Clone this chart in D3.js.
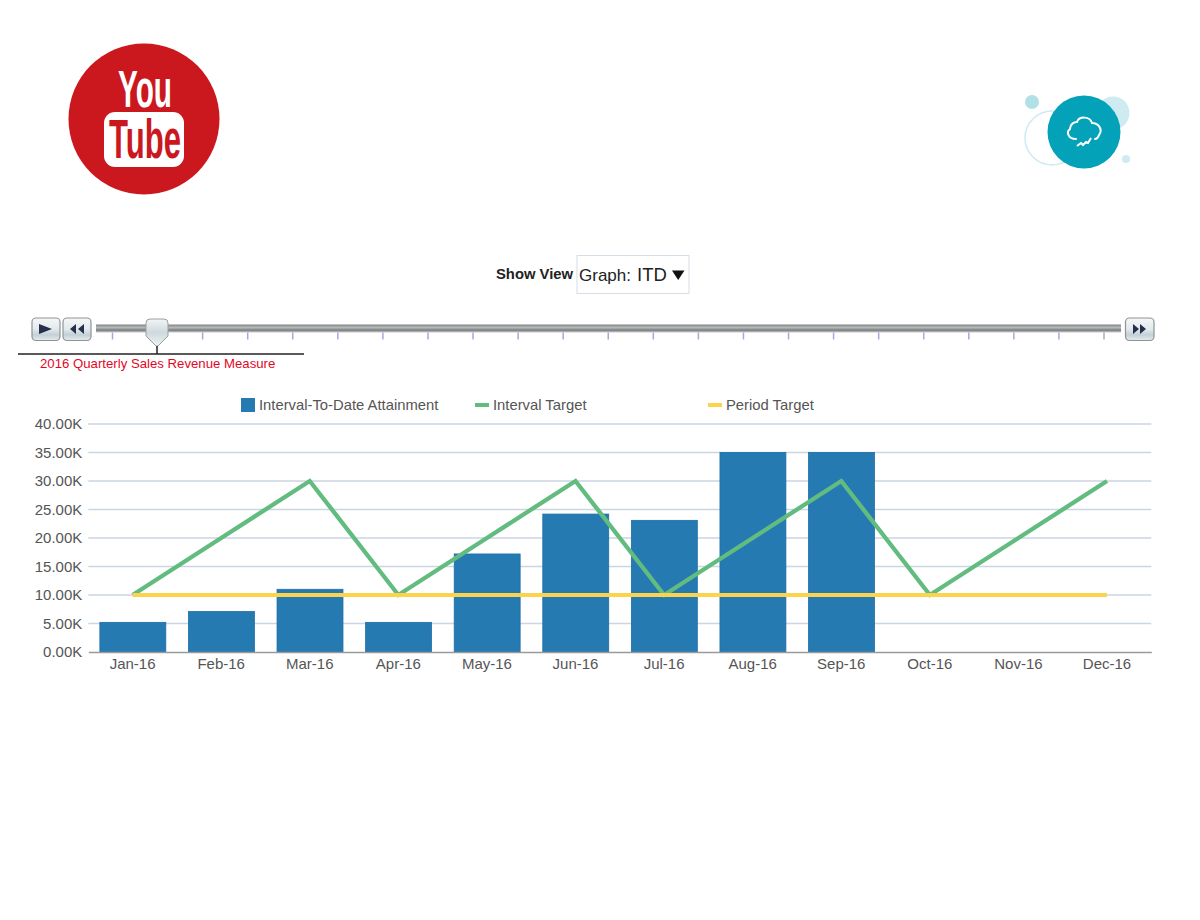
<!DOCTYPE html>
<html><head><meta charset="utf-8">
<script src="https://cdn.jsdelivr.net/npm/d3@7/dist/d3.min.js"></script>
<style>html,body{margin:0;padding:0;background:#fff}svg{display:block}text{font-family:"Liberation Sans",Arial,sans-serif}</style>
</head><body><svg id="c" width="1200" height="920"></svg>
<script>
const months=["Jan-16","Feb-16","Mar-16","Apr-16","May-16","Jun-16","Jul-16","Aug-16","Sep-16","Oct-16","Nov-16","Dec-16"];
const attainment=[5200,7100,11000,5200,17200,24200,23100,35000,35000,null,null,null];
const intervalTarget=[10000,20000,30000,10000,20000,30000,10000,20000,30000,10000,20000,30000];
const periodTarget=[10000,10000,10000,10000,10000,10000,10000,10000,10000,10000,10000,10000];
const yTicks=[0,5000,10000,15000,20000,25000,30000,35000,40000];
const legendLabels=["Interval-To-Date Attainment","Interval Target","Period Target"];
const sliderStops=d3.range(23);

const svg=d3.select("#c");
const defs=svg.append("defs");
function grad(id,stops){const g=defs.append("linearGradient").attr("id",id).attr("x1",0).attr("x2",0).attr("y1",0).attr("y2",1);
 stops.forEach(([o,c])=>g.append("stop").attr("offset",o).attr("stop-color",c));}
grad("btn",[[0,"#f4f7f8"],[.5,"#e2e9ec"],[.75,"#c3d0d5"],[1,"#e6ecee"]]);
grad("track",[[0,"#7f8383"],[.4,"#b9bcbc"],[.7,"#777b7b"],[1,"#c9cccc"]]);
grad("thumb",[[0,"#f2f5f6"],[.5,"#ced9dd"],[1,"#eef2f3"]]);

// YouTube badge
const narrow="'Liberation Sans Narrow','Liberation Sans'";
const yt=svg.append("g");
yt.append("circle").attr("cx",144).attr("cy",119).attr("r",75.5).attr("fill","#cb181f");
yt.append("text").text("You").attr("x",145).attr("y",107).attr("text-anchor","middle").attr("fill","#fff")
 .attr("font-size",51).attr("font-weight",700).attr("textLength",54).attr("lengthAdjust","spacingAndGlyphs").style("font-family",narrow);
yt.append("rect").attr("x",104).attr("y",112).attr("width",80).attr("height",55).attr("rx",11).attr("fill","#fff");
yt.append("text").text("Tube").attr("x",145).attr("y",158).attr("text-anchor","middle").attr("fill","#cb181f")
 .attr("font-size",55).attr("font-weight",700).attr("textLength",72).attr("lengthAdjust","spacingAndGlyphs").style("font-family",narrow);

// Cloud badge
const cb=svg.append("g");
cb.append("circle").attr("cx",1032).attr("cy",102).attr("r",7).attr("fill","#b2e0e7");
cb.append("circle").attr("cx",1113).attr("cy",113).attr("r",16.5).attr("fill","#cdebf0");
cb.append("circle").attr("cx",1052).attr("cy",138).attr("r",27).attr("fill","none").attr("stroke","#cdebf0").attr("stroke-width",1.5);
cb.append("circle").attr("cx",1126).attr("cy",159).attr("r",4).attr("fill","#cdebf0");
cb.append("circle").attr("cx",1084).attr("cy",132).attr("r",36.5).attr("fill","#04a2b8");
cb.append("path").attr("d","M1076 139 C1068 139 1066 132 1070 129 C1070 124 1074 122 1077 122 C1079 116 1090 116 1092 123 C1099 123 1103 130 1099 135 C1098 138 1097 139 1095 139")
 .attr("fill","none").attr("stroke","#fff").attr("stroke-width",2).attr("stroke-linecap","round");
cb.append("path").attr("d","M1077 146 L1081 143 L1083 145 L1086 142 L1088 143 L1091 138")
 .attr("fill","none").attr("stroke","#fff").attr("stroke-width",2);

// Show View selector
svg.append("text").text("Show View").attr("x",496).attr("y",279).attr("font-size",14.8).attr("font-weight",700).attr("fill","#222");
svg.append("rect").attr("x",577).attr("y",255.5).attr("width",112).attr("height",38).attr("fill","#fff").attr("stroke","#d5dde6");
svg.append("text").text("Graph:").attr("x",579).attr("y",281).attr("font-size",17).attr("fill","#222");
svg.append("text").text("ITD").attr("x",637).attr("y",281).attr("font-size",18.5).attr("fill","#222");
svg.append("path").attr("d","M672 270.5 L684.5 270.5 L678.2 280 Z").attr("fill","#111");

// Slider
function button(x,w,path){const g=svg.append("g");
 g.append("rect").attr("x",x).attr("y",318).attr("width",w).attr("height",22.5).attr("rx",4).attr("fill","url(#btn)").attr("stroke","#8f9496").attr("stroke-width",1.2);
 g.append("path").attr("d",path).attr("fill","#26304d");}
button(32,28,"M39 324 L52 329 L39 334 Z");
button(63,28,"M76 324 L70 329 L76 334 Z M84 324 L78 329 L84 334 Z");
button(1125.5,28.5,"M1133 324 L1139 329 L1133 334 Z M1140 324 L1146 329 L1140 334 Z");
svg.append("rect").attr("x",96).attr("y",324.5).attr("width",1025).attr("height",8).attr("fill","url(#track)");
const sx=d3.scaleLinear().domain([0,22]).range([112.5,1104]);
svg.append("g").selectAll("line").data(sliderStops).join("line")
 .attr("x1",d=>sx(d)).attr("x2",d=>sx(d)).attr("y1",332.5).attr("y2",339.5).attr("stroke","#a3abd8").attr("stroke-width",1.5);
svg.append("path").attr("d","M146 323 Q146 319 150 319 L164 319 Q168 319 168 323 L168 336 L158 346 L156 346 L146 336 Z")
 .attr("fill","url(#thumb)").attr("stroke","#9aa0a2");
svg.append("line").attr("x1",157).attr("x2",157).attr("y1",346).attr("y2",354).attr("stroke","#222").attr("stroke-width",1.5);
svg.append("line").attr("x1",18).attr("x2",304).attr("y1",354).attr("y2",354).attr("stroke","#222").attr("stroke-width",1.5);
svg.append("text").text("2016 Quarterly Sales Revenue Measure").attr("x",40).attr("y",368).attr("font-size",13.2).attr("fill","#e3061f");

// Chart
const x=d3.scaleBand().domain(months).range([88.3,1151.3]).paddingInner(.25).paddingOuter(.125);
const y=d3.scaleLinear().domain([0,40000]).range([652,424]);
const yFmt=d=>(d/1000).toFixed(2)+"K";
const cx=m=>x(m)+x.bandwidth()/2;

const gridG=svg.append("g");
gridG.selectAll("line").data(yTicks.filter(d=>d>0)).join("line")
 .attr("x1",88.3).attr("x2",1151.3).attr("y1",d=>y(d)).attr("y2",d=>y(d)).attr("stroke","#cbd5e3").attr("stroke-width",1.3);

const yAxis=svg.append("g").attr("transform","translate(88.3,0)").call(d3.axisLeft(y).tickValues(yTicks).tickFormat(yFmt).tickSize(0).tickPadding(6));
yAxis.select(".domain").remove();
yAxis.selectAll("text").attr("font-size",15).attr("fill","#555").style("font-family","'Liberation Sans'");

svg.append("g").selectAll("rect").data(months.map((m,i)=>({m,v:attainment[i]})).filter(d=>d.v!=null)).join("rect")
 .attr("x",d=>x(d.m)+.5).attr("width",x.bandwidth()-.5).attr("y",d=>y(d.v)).attr("height",d=>y(0)-y(d.v))
 .attr("fill","#267ab2").attr("stroke","#1c6ea8").attr("stroke-width",.8);

const xAxis=svg.append("g").attr("transform","translate(0,652)").call(d3.axisBottom(x).tickSize(0).tickPadding(6));
xAxis.select(".domain").attr("stroke","#9a9a9a").attr("stroke-width",1.5);
xAxis.selectAll("text").attr("font-size",15).attr("fill","#555").style("font-family","'Liberation Sans'");

const line=d3.line().x((d,i)=>cx(months[i])).y(d=>y(d));
svg.append("path").attr("d",line(intervalTarget)).attr("fill","none").attr("stroke","#62bb7f").attr("stroke-width",4.3).attr("stroke-linejoin","miter");
svg.append("path").attr("d",line(periodTarget)).attr("fill","none").attr("stroke","#fcd34d").attr("stroke-width",4);

// Legend
const lg=svg.append("g").style("font-size","14.8px").attr("fill","#555");
lg.append("rect").attr("x",241).attr("y",398).attr("width",14).attr("height",14).attr("fill","#267ab2");
lg.append("text").text(legendLabels[0]).attr("x",259).attr("y",410);
lg.append("line").attr("x1",475).attr("x2",489).attr("y1",405).attr("y2",405).attr("stroke","#62bb7f").attr("stroke-width",4);
lg.append("text").text(legendLabels[1]).attr("x",493).attr("y",410);
lg.append("line").attr("x1",708).attr("x2",722).attr("y1",405).attr("y2",405).attr("stroke","#fcd34d").attr("stroke-width",4);
lg.append("text").text(legendLabels[2]).attr("x",726).attr("y",410);
</script></body></html>
